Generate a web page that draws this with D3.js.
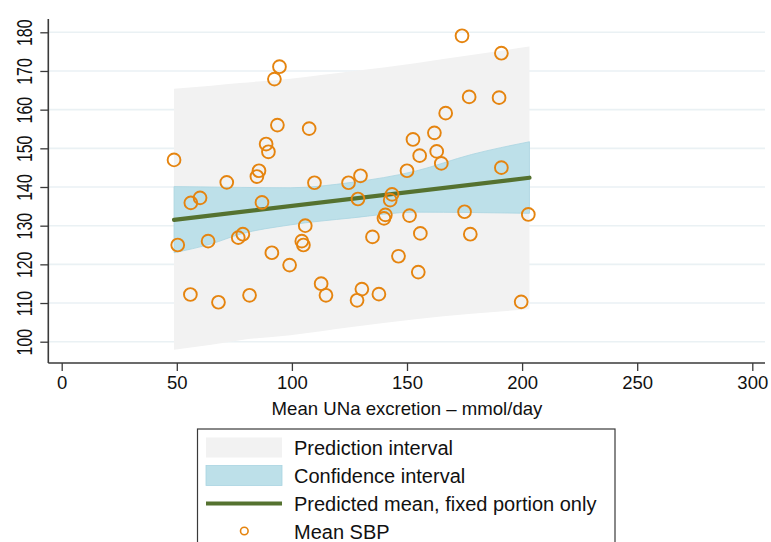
<!DOCTYPE html>
<html><head><meta charset="utf-8">
<script src="https://cdn.jsdelivr.net/npm/d3@7"></script>
<style>html,body{margin:0;padding:0;background:#fff;}svg{display:block;font-family:"Liberation Sans",Arial,Helvetica,sans-serif;}</style>
</head><body><div id="chart"></div>
<script>
// ---- data ----
const xTicks = [0, 50, 100, 150, 200, 250, 300];
const yTicks = [100, 110, 120, 130, 140, 150, 160, 170, 180];
const bandX  = [48.8, 65, 77.5, 99.3, 126, 153.6, 178, 203.2];
const piHigh = [165.4, 166.2, 166.9, 168.0, 169.9, 172.0, 174.1, 176.3];
const piLow  = [97.9, 99.2, 100.4, 101.7, 103.8, 105.8, 107.2, 108.4];
const ciHigh = [140.1, 140.0, 139.9, 139.8, 141.2, 144.1, 148.4, 151.7];
const ciLow  = [123.0, 125.3, 127.8, 130.2, 132.0, 133.5, 133.4, 133.2];
const meanX  = [48.8, 203.2];
const meanY  = [131.5, 142.4];
const ptsX = [48.8,50.4,56.1,60.1,63.6,55.9,68.1,81.6,76.7,78.7,71.7,87.0,85.7,84.8,88.8,89.8,93.7,94.6,92.4,91.3,99.0,107.5,105.8,104.3,105.0,109.8,112.7,114.8,124.6,129.8,128.7,135.0,130.4,128.3,137.8,140.0,140.6,142.7,143.5,146.3,151.1,155.8,154.9,150.0,152.6,155.5,161.9,166.8,162.9,164.9,173.9,177.0,191.0,190.0,191.0,175.0,177.5,202.7,199.6];
const ptsY = [147.0,125.0,135.9,137.2,126.0,112.2,110.2,112.0,126.9,127.8,141.2,136.0,144.2,142.7,151.1,149.1,156.0,171.1,167.9,123.0,119.8,155.1,130.0,126.0,125.0,141.1,115.0,112.0,141.1,142.9,136.9,127.1,113.6,110.7,112.3,131.9,132.8,136.6,138.1,122.1,132.6,128.0,118.0,144.2,152.3,148.1,154.0,159.1,149.2,146.1,179.1,163.3,174.6,163.1,145.0,133.6,127.8,132.9,110.3];
const legendLabels = ["Prediction interval", "Confidence interval", "Predicted mean, fixed portion only", "Mean SBP"];
const xTitle = "Mean UNa excretion \u2013 mmol/day";

// ---- drawing ----
const W = 771, H = 542;
const plotL = 48.3, plotR = 765, plotT = 19, plotB = 363;
const x = d3.scaleLinear().domain([0, 300]).range([61.7, 752.3]);
const y = d3.scaleLinear().domain([100, 180]).range([341.7, 32.3]);

const colPI = "#f2f2f2", colCI = "#bde0e9", colCIedge = "#a9d4e1",
      colLine = "#557230", colPt = "#e5840f", colAxis = "#3a3a3a", colGrid = "#eaf1f4";

const svg = d3.select("#chart").append("svg").attr("width", W).attr("height", H);
svg.append("rect").attr("width", W).attr("height", H).attr("fill", "#fff");

// grid
svg.append("g").selectAll("line").data(yTicks).join("line")
  .attr("x1", plotL).attr("x2", plotR)
  .attr("y1", d => y(d)).attr("y2", d => y(d))
  .attr("stroke", colGrid).attr("stroke-width", 1.6);

const band = (lo, hi) => d3.area()
  .x((d, i) => x(bandX[i]))
  .y0((d, i) => y(lo[i]))
  .y1((d, i) => y(hi[i]))
  .curve(d3.curveMonotoneX)(bandX);

svg.append("path").attr("d", band(piLow, piHigh)).attr("fill", colPI);
svg.append("path").attr("d", band(ciLow, ciHigh)).attr("fill", colCI)
  .attr("stroke", colCIedge).attr("stroke-width", 0.8);

svg.append("path")
  .attr("d", d3.line().x((d, i) => x(meanX[i])).y((d, i) => y(meanY[i]))(meanX))
  .attr("stroke", colLine).attr("stroke-width", 4.2).attr("fill", "none").attr("stroke-linecap", "round");

svg.append("g").selectAll("circle").data(ptsX).join("circle")
  .attr("cx", (d, i) => x(ptsX[i])).attr("cy", (d, i) => y(ptsY[i]))
  .attr("r", 6.4).attr("fill", "none").attr("stroke", colPt).attr("stroke-width", 1.9);

// axes
const xAxis = svg.append("g").attr("transform", `translate(0,${plotB})`)
  .call(d3.axisBottom(x).tickValues(xTicks).tickSize(8).tickPadding(5).tickFormat(d3.format("d")));
xAxis.select(".domain").remove();
xAxis.append("line").attr("x1", plotL).attr("x2", plotR).attr("stroke", colAxis).attr("stroke-width", 1.6);
xAxis.selectAll(".tick line").attr("stroke", colAxis).attr("stroke-width", 1.3);
xAxis.selectAll(".tick text").attr("font-size", 18.5).attr("fill", "#111").attr("font-family", "Liberation Sans, Arial, sans-serif");

const yAxis = svg.append("g").attr("transform", `translate(${plotL},0)`)
  .call(d3.axisLeft(y).tickValues(yTicks).tickSize(8).tickFormat(d3.format("d")));
yAxis.select(".domain").remove();
yAxis.append("line").attr("y1", plotT).attr("y2", plotB).attr("stroke", colAxis).attr("stroke-width", 1.6);
yAxis.selectAll(".tick line").attr("stroke", colAxis).attr("stroke-width", 1.3);
yAxis.selectAll(".tick text")
  .attr("x", 0).attr("dy", null).attr("y", 0)
  .attr("text-anchor", "middle")
  .attr("dominant-baseline", "central")
  .attr("transform", "translate(-24,0) rotate(-90) scale(0.74,1)")
  .attr("font-size", 21.5).attr("fill", "#111").attr("font-family", "Liberation Sans, Arial, sans-serif");

svg.append("text").attr("x", x(150)).attr("y", 415).attr("text-anchor", "middle")
  .attr("font-size", 18.6).attr("fill", "#111").text(xTitle);

// legend
const lg = svg.append("g");
lg.append("rect").attr("x", 197.5).attr("y", 429).attr("width", 417.5).attr("height", 140)
  .attr("fill", "#fff").attr("stroke", colAxis).attr("stroke-width", 1.2);
lg.append("rect").attr("x", 206).attr("y", 437.5).attr("width", 76).attr("height", 20).attr("fill", colPI);
lg.append("rect").attr("x", 206).attr("y", 465.5).attr("width", 76).attr("height", 20).attr("fill", colCI)
  .attr("stroke", colCIedge).attr("stroke-width", 0.8);
lg.append("line").attr("x1", 206).attr("x2", 282).attr("y1", 503.5).attr("y2", 503.5)
  .attr("stroke", colLine).attr("stroke-width", 4.2);
lg.append("circle").attr("cx", 244.3).attr("cy", 531).attr("r", 3.8).attr("fill", "none")
  .attr("stroke", colPt).attr("stroke-width", 1.6);
lg.selectAll("text.lab").data(legendLabels).join("text").attr("class", "lab")
  .attr("x", 294).attr("y", (d, i) => 447.5 + i * 28).attr("dominant-baseline", "central")
  .attr("font-size", 20).attr("fill", "#111").text(d => d);
</script></body></html>
